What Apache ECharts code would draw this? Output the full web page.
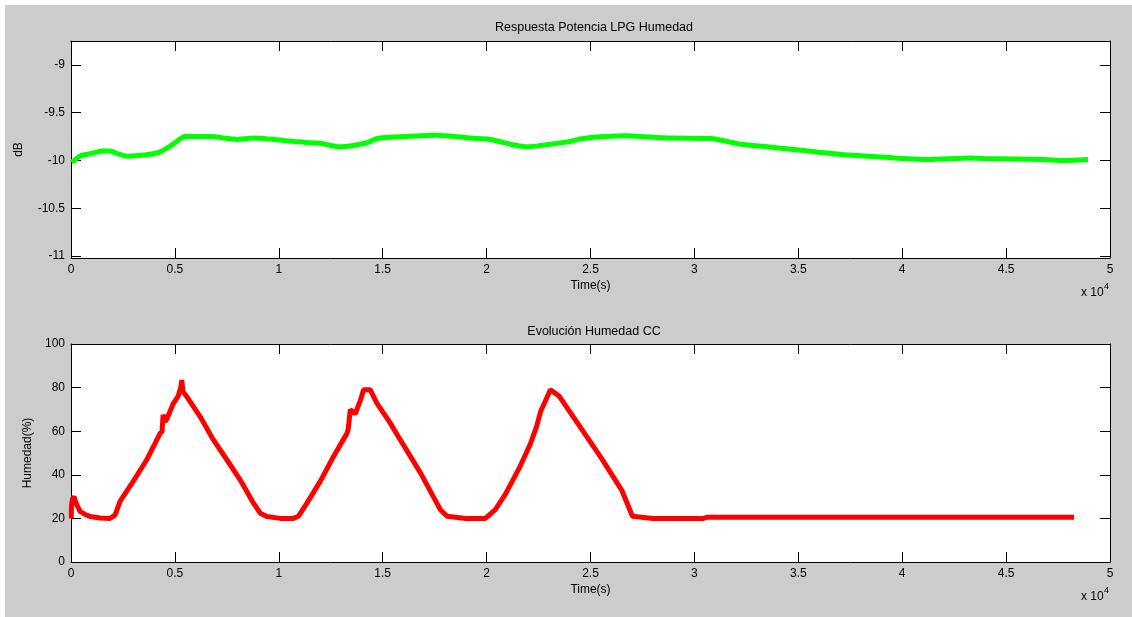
<!DOCTYPE html>
<html><head><meta charset="utf-8">
<script src="https://cdn.jsdelivr.net/npm/echarts@6/dist/echarts.min.js"></script>
<style>html,body{margin:0;padding:0;background:#fff}#c{width:1132px;height:617px}</style>
</head><body><div id="c"></div><script>
// ---- data ----
const titleTop = 'Respuesta Potencia LPG Humedad';
const titleBottom = 'Evolución Humedad CC';
const xName = 'Time(s)';
const yNameTop = 'dB';
const yNameBottom = 'Humedad(%)';
const dbTicks = [-11, -10.5, -10, -9.5, -9];
const humTicks = [0, 20, 40, 60, 80, 100];

const greenTime = [34, 434, 915, 1541, 1879, 2264, 2683, 3646, 4287, 4913, 5491, 6696, 7982, 8767, 10694, 11513, 11994, 12958, 14243, 14725, 15992, 17616, 19220, 20183, 21147, 21951, 23073, 24036, 24518, 25626, 26768, 27731, 28853, 30780, 32225, 33511, 34778, 35983, 37187, 38810, 40077, 41219, 43304, 43931, 46821, 47784, 48940];
const greenDb = [-10.02, -9.955, -9.93, -9.90, -9.90, -9.93, -9.955, -9.94, -9.91, -9.83, -9.75, -9.75, -9.78, -9.765, -9.80, -9.815, -9.82, -9.857, -9.815, -9.77, -9.75, -9.735, -9.765, -9.78, -9.83, -9.857, -9.83, -9.80, -9.774, -9.75, -9.74, -9.753, -9.765, -9.77, -9.83, -9.857, -9.885, -9.913, -9.94, -9.96, -9.98, -9.99, -9.975, -9.98, -9.99, -10.0, -9.99];

const redTime = [14, 24, 72, 145, 241, 434, 674, 915, 1397, 1879, 2119, 2360, 2987, 3646, 4287, 4383, 4432, 4528, 4610, 4928, 5154, 5284, 5332, 5395, 5573, 6214, 6855, 7500, 8141, 8782, 9104, 9427, 10068, 10708, 10949, 11354, 11994, 12635, 13281, 13343, 13439, 13680, 13921, 14080, 14403, 14726, 15366, 15848, 16811, 17774, 18100, 19000, 19940, 20420, 20900, 21620, 22100, 22400, 22600, 23073, 23500, 24500, 25500, 26500, 27020, 28000, 29000, 30440, 30600, 48270];
const redHum = [20, 26, 29, 30, 27, 23.2, 21.8, 20.9, 20.2, 20, 21.5, 27.8, 36.9, 46.9, 59, 60, 67.5, 64.5, 65.5, 72.8, 76, 80, 83.5, 78, 75.9, 66.7, 56, 46.9, 37.7, 27, 22.4, 20.9, 20, 20, 21, 27, 37, 48.4, 59, 61, 69.8, 68, 74, 79, 79, 72.8, 63.7, 56, 41, 24, 21, 20, 20, 24, 31, 44, 54, 62, 69, 79, 76, 62, 48, 33, 21, 20, 20, 20, 20.5, 20.5];

const greenData = greenTime.map((t, i) => [t, greenDb[i]]);
const redData = redTime.map((t, i) => [t, redHum[i]]);

// ---- chart ----
const FONT = 'Liberation Sans, Arial, Helvetica, sans-serif';
const chart = echarts.init(document.getElementById('c'), null, {renderer: 'canvas'});

function xAxisPair(gridIndex) {
  const base = {
    type: 'value', gridIndex, min: 0, max: 50000, interval: 5000,
    axisLine: {show: true, onZero: false, lineStyle: {color: '#000', width: 1}},
    axisTick: {show: true, inside: true, length: 10, lineStyle: {color: '#000'}},
    splitLine: {show: false}
  };
  return [
    Object.assign({}, base, {
      position: 'bottom',
      name: xName, nameLocation: 'middle', nameGap: 22,
      nameTextStyle: {color: '#000', fontFamily: FONT, fontSize: 12},
      axisLabel: {color: '#000', fontFamily: FONT, fontSize: 12, margin: 6,
        formatter: v => String(+(v / 10000).toFixed(1))}
    }),
    Object.assign({}, base, {position: 'top', axisLabel: {show: false}})
  ];
}

function yAxisPair(gridIndex, min, max, ticks, name, nameGap) {
  const base = {
    type: 'value', gridIndex, min, max,
    axisLine: {show: true, onZero: false, lineStyle: {color: '#000', width: 1}},
    axisTick: {show: true, inside: true, length: 10, customValues: ticks, lineStyle: {color: '#000'}},
    splitLine: {show: false}
  };
  return [
    Object.assign({}, base, {
      position: 'left',
      name, nameLocation: 'middle', nameGap,
      nameTextStyle: {color: '#000', fontFamily: FONT, fontSize: 12},
      axisLabel: {color: '#000', fontFamily: FONT, fontSize: 12, margin: 6, customValues: ticks}
    }),
    Object.assign({}, base, {position: 'right', axisLabel: {show: false}})
  ];
}

const option = {
  animation: false,
  backgroundColor: '#cccccc',
  title: [
    {text: titleTop, left: 589, top: 16, textAlign: 'center',
      textStyle: {color: '#000', fontFamily: FONT, fontSize: 12.5, fontWeight: 'normal'}},
    {text: titleBottom, left: 589, top: 320, textAlign: 'center',
      textStyle: {color: '#000', fontFamily: FONT, fontSize: 12.5, fontWeight: 'normal'}}
  ],
  grid: [
    {left: 71, right: 22, top: 41, height: 217, backgroundColor: '#fff', show: true, borderWidth: 0},
    {left: 71, right: 22, top: 344, height: 218, backgroundColor: '#fff', show: true, borderWidth: 0}
  ],
  xAxis: [...xAxisPair(0), ...xAxisPair(1)],
  yAxis: [
    ...yAxisPair(0, -11.02, -8.75, dbTicks, yNameTop, 46),
    ...yAxisPair(1, 0, 100, humTicks, yNameBottom, 35)
  ],
  series: [
    {type: 'line', xAxisIndex: 0, yAxisIndex: 0, data: greenData, showSymbol: false, smooth: 0.25,
      lineStyle: {color: '#00ff00', width: 5}, z: 1},
    {type: 'line', xAxisIndex: 2, yAxisIndex: 2, data: redData, showSymbol: false,
      lineStyle: {color: '#ff0000', width: 5}, z: 1}
  ],
  graphic: [
    {type: 'rect', shape: {x: 0, y: 0, width: 1132, height: 5}, style: {fill: '#fff'}},
    {type: 'rect', shape: {x: 0, y: 0, width: 5, height: 617}, style: {fill: '#fff'}},
    {type: 'text', x: 1081, y: 287, style: {text: 'x 10', fill: '#000', font: '12px ' + FONT}},
    {type: 'text', x: 1104, y: 282, style: {text: '4', fill: '#000', font: '9px ' + FONT}},
    {type: 'text', x: 1081, y: 591, style: {text: 'x 10', fill: '#000', font: '12px ' + FONT}},
    {type: 'text', x: 1104, y: 586, style: {text: '4', fill: '#000', font: '9px ' + FONT}}
  ]
};
chart.setOption(option);
</script></body></html>
